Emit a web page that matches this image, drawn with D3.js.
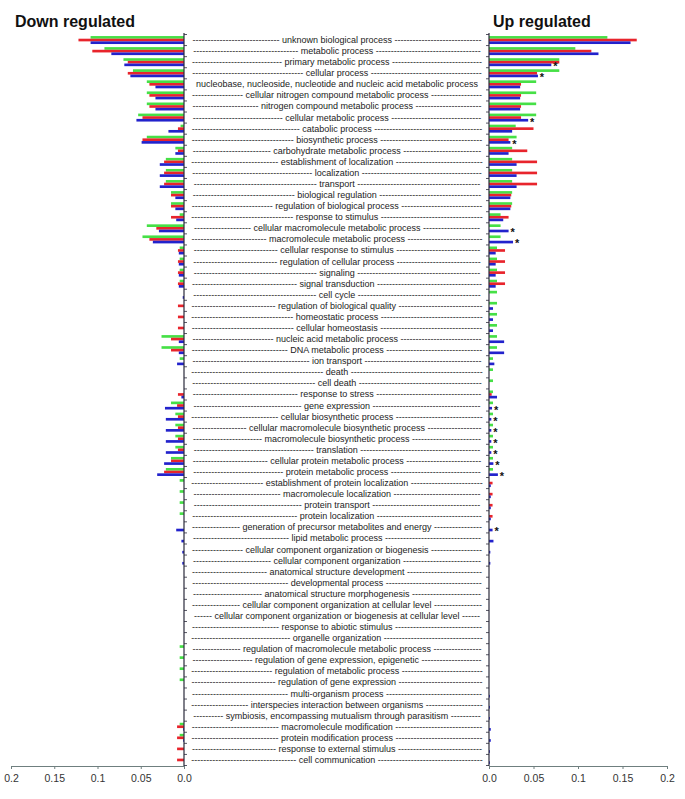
<!DOCTYPE html>
<html>
<head>
<meta charset="utf-8">
<title>Down / Up regulated GO terms</title>
<script src="https://cdn.jsdelivr.net/npm/d3@7"></script>
<style>
 body { margin: 0; background: #fff; }
 svg text { font-family: "Liberation Sans", Arial, sans-serif; }
</style>
</head>
<body>
<div id="chart"></div>
<script>
// GO categories, top to bottom
var categories = [
 "unknown biological process", "metabolic process", "primary metabolic process", "cellular process",
 "nucleobase, nucleoside, nucleotide and nucleic acid metabolic process",
 "cellular nitrogen compound metabolic process", "nitrogen compound metabolic process",
 "cellular metabolic process", "catabolic process", "biosynthetic process", "carbohydrate metabolic process",
 "establishment of localization", "localization", "transport", "biological regulation",
 "regulation of biological process", "response to stimulus", "cellular macromolecule metabolic process",
 "macromolecule metabolic process", "cellular response to stimulus", "regulation of cellular process",
 "signaling", "signal transduction", "cell cycle", "regulation of biological quality", "homeostatic process",
 "cellular homeostasis", "nucleic acid metabolic process", "DNA metabolic process", "ion transport",
 "death", "cell death", "response to stress", "gene expression", "cellular biosynthetic process",
 "cellular macromolecule biosynthetic process", "macromolecule biosynthetic process", "translation",
 "cellular protein metabolic process", "protein metabolic process", "establishment of protein localization",
 "macromolecule localization", "protein transport", "protein localization",
 "generation of precursor metabolites and energy", "lipid metabolic process",
 "cellular component organization or biogenesis", "cellular component organization",
 "anatomical structure development", "developmental process", "anatomical structure morphogenesis",
 "cellular component organization at cellular level",
 "cellular component organization or biogenesis at cellular level", "response to abiotic stimulus",
 "organelle organization", "regulation of macromolecule metabolic process",
 "regulation of gene expression, epigenetic", "regulation of metabolic process",
 "regulation of gene expression", "multi-organism process", "interspecies interaction between organisms",
 "symbiosis, encompassing mutualism through parasitism", "macromolecule modification",
 "protein modification process", "response to external stimulus", "cell communication"
];

// down regulated (left panel)
var downGreen = [0.108,0.092,0.070,0.059,0.043,0.043,0.043,0.053,0.004,0.043,0.010,0.021,0.021,0.021,0.015,0.015,0.005,0.043,0.048,0.005,0.005,0.005,0.005,0,0,0,0,0.026,0.026,0.005,0,0,0,0.015,0.010,0.010,0.010,0.010,0.015,0.021,0.005,0.005,0.005,0.005,0,0,0,0,0,0,0,0,0,0,0,0.005,0.005,0.005,0.005,0,0,0,0.005,0.005,0,0];
var downRed   = [0.122,0.106,0.065,0.065,0.040,0.040,0.040,0.048,0.007,0.048,0.007,0.023,0.023,0.023,0.015,0.015,0.015,0.032,0.040,0.007,0.007,0.007,0.007,0,0.007,0.007,0.007,0.015,0.015,0,0,0,0.007,0.008,0.007,0.007,0.007,0.007,0.015,0.023,0,0,0,0,0,0,0,0,0,0,0,0,0,0,0,0,0,0,0,0,0,0,0.008,0.008,0.008,0.008];
var downBlue  = [0.108,0.084,0.069,0.062,0.033,0.033,0.033,0.055,0.018,0.049,0.010,0.028,0.028,0.028,0.010,0.010,0.009,0.029,0.036,0.006,0.006,0.006,0.006,0.0015,0,0,0,0.006,0.006,0.008,0,0,0.003,0.022,0.021,0.021,0.021,0.021,0.023,0.031,0,0,0,0,0.009,0.003,0.002,0.002,0,0,0,0,0,0,0,0,0,0,0,0,0,0,0.001,0.001,0,0];

// up regulated (right panel)
var upGreen = [0.133,0.097,0.079,0.079,0.053,0.053,0.053,0.053,0.030,0.031,0.026,0.026,0.026,0.026,0.026,0.026,0.013,0.013,0.013,0.009,0.009,0.009,0.009,0.009,0.009,0.009,0.009,0.009,0.009,0.0045,0.0045,0.0045,0.0045,0.0045,0.0045,0.0045,0.0045,0.0045,0.0045,0.0045,0,0,0,0,0,0,0,0,0,0,0,0,0,0,0,0,0,0,0,0,0,0,0,0,0,0];
var upRed   = [0.166,0.115,0.079,0.054,0.036,0.036,0.036,0.036,0.050,0.022,0.043,0.054,0.054,0.054,0.025,0.025,0.022,0,0,0.018,0.018,0.018,0.018,0,0,0,0,0,0,0,0,0,0.003,0,0,0,0,0,0,0,0.004,0.004,0.004,0.004,0,0,0,0,0,0,0,0,0,0,0,0,0,0,0,0,0,0,0,0,0,0];
var upBlue  = [0.159,0.123,0.070,0.055,0.035,0.035,0.035,0.044,0.026,0.024,0.022,0.031,0.031,0.031,0.024,0.024,0.016,0.022,0.027,0.0075,0.0075,0.0075,0.0075,0,0.0045,0.0045,0.0045,0.017,0.017,0.006,0,0,0.009,0.0034,0.0026,0.0026,0.0026,0.0026,0.0049,0.010,0.002,0.002,0.002,0.002,0.004,0.005,0.0015,0.0015,0,0,0,0,0,0,0,0,0,0,0,0.001,0.001,0.001,0.002,0.002,0.001,0.001];

// terms marked with a star in the up regulated panel
var upStars = ["primary metabolic process", "cellular process", "cellular metabolic process",
 "biosynthetic process", "cellular macromolecule metabolic process", "macromolecule metabolic process",
 "gene expression", "cellular biosynthetic process", "cellular macromolecule biosynthetic process",
 "macromolecule biosynthetic process", "translation", "cellular protein metabolic process",
 "protein metabolic process", "generation of precursor metabolites and energy"];

var seriesKeys = ["green", "red", "blue"];
var colors = { green: "#46e046", red: "#e8242c", blue: "#2222cc" };

var width = 685, height = 799;
var svg = d3.select("#chart").append("svg")
    .attr("width", width).attr("height", height);

var y = d3.scaleBand().domain(categories)
    .range([34.5, 765.5]).paddingInner(0.28).paddingOuter(0.14);
var ySub = d3.scaleBand().domain(seriesKeys).range([0, y.bandwidth()]);

var xLeft = d3.scaleLinear().domain([0, 0.2]).range([184, 11]);
var xRight = d3.scaleLinear().domain([0, 0.2]).range([489, 667]);

function rowsOf(g, b, r) {
  return categories.map(function(c, i) {
    return { cat: c, green: g[i], red: r[i], blue: b[i] };
  });
}
var downRows = rowsOf(downGreen, downBlue, downRed);
var upRows = rowsOf(upGreen, upBlue, upRed);

function drawBars(rows, x, cls) {
  var g = svg.append("g").attr("class", cls);
  rows.forEach(function(r) {
    seriesKeys.forEach(function(k) {
      if (!r[k]) return;
      var x0 = x(0), x1 = x(r[k]);
      g.append("rect")
        .attr("x", Math.min(x0, x1))
        .attr("y", y(r.cat) + ySub(k))
        .attr("width", Math.abs(x1 - x0))
        .attr("height", ySub.bandwidth())
        .attr("fill", colors[k]);
    });
  });
}
drawBars(downRows, xLeft, "down");
drawBars(upRows, xRight, "up");

// stars
svg.append("g").selectAll("text")
  .data(upStars)
  .enter().append("text")
  .attr("x", function(d) { return xRight(upBlue[categories.indexOf(d)]) + 4; })
  .attr("y", function(d) { return y(d) + ySub("blue") + ySub.bandwidth() + 4; })
  .attr("text-anchor", "middle")
  .attr("font-size", 11)
  .attr("font-weight", "bold")
  .attr("fill", "#111")
  .text("*");

// horizontal axes
function fmt(d) { return d === 0 ? "0.0" : String(d); }
var ticks = [0, 0.05, 0.1, 0.15, 0.2];
[xLeft, xRight].forEach(function(x) {
  var ax = svg.append("g")
    .attr("transform", "translate(0,766)")
    .call(d3.axisBottom(x).tickValues(ticks).tickFormat(fmt)
      .tickSize(3).tickSizeOuter(0).tickPadding(6));
  ax.select(".domain").attr("stroke", "#6f7f7f").attr("stroke-width", 1.2);
  ax.selectAll(".tick line").attr("stroke", "#6f7f7f");
  ax.selectAll("text").attr("font-size", 10.5).attr("fill", "#333")
    .attr("font-family", "Liberation Sans, Arial, sans-serif");
});

// vertical axis lines with ticks at row boundaries
var bounds = d3.range(categories.length + 1).map(function(i) {
  return y.range()[0] + i * y.step();
});
[[184, 3], [489, -3]].forEach(function(a) {
  var g = svg.append("g");
  g.append("line").attr("x1", a[0]).attr("x2", a[0])
    .attr("y1", 33).attr("y2", 766)
    .attr("stroke", "#2b2b3b").attr("stroke-width", 1.2);
  g.selectAll("line.tk").data(bounds).enter().append("line")
    .attr("class", "tk")
    .attr("x1", a[0]).attr("x2", a[0] + a[1])
    .attr("y1", function(d) { return d; }).attr("y2", function(d) { return d; })
    .attr("stroke", "#2b2b3b").attr("stroke-width", 0.8);
});

// middle labels padded with dashes
var labelW = 292, cx = 337;
var lab = svg.append("g").attr("font-size", 9).attr("fill", "#222");
var probe = lab.append("text").text("-");
var dashW = probe.node().getComputedTextLength();
probe.text("- -");
var spaceW = probe.node().getComputedTextLength() - 2 * dashW;
probe.remove();
categories.forEach(function(c) {
  var t = lab.append("text")
    .attr("x", cx)
    .attr("y", y(c) + y.bandwidth() / 2 + 3)
    .attr("text-anchor", "middle")
    .text(c);
  var w = t.node().getComputedTextLength();
  var n = Math.floor((labelW - w - 2 * spaceW) / (2 * dashW));
  if (n > 0) {
    var dash = "-".repeat(n);
    t.text(dash + " " + c + " " + dash);
  }
});

// titles
svg.append("text").attr("x", 15).attr("y", 27)
  .attr("font-size", 16).attr("font-weight", "bold").attr("fill", "#111")
  .text("Down regulated");
svg.append("text").attr("x", 493).attr("y", 27)
  .attr("font-size", 16).attr("font-weight", "bold").attr("fill", "#111")
  .text("Up regulated");
</script>
</body>
</html>
